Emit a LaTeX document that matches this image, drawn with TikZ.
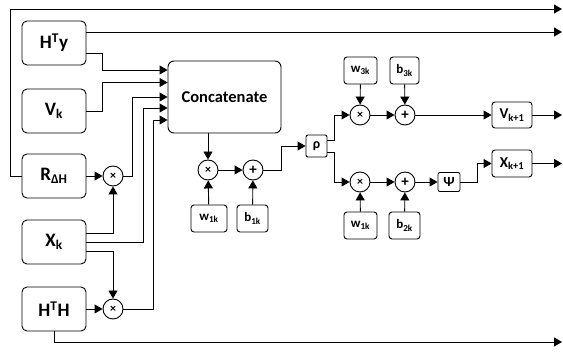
\documentclass[tikz,border=0pt]{standalone}
\usepackage{fontspec}
\setmainfont{Carlito}
\usetikzlibrary{arrows.meta}

\tikzset{
  blk/.style={draw, rounded corners=5pt, minimum width=64pt, minimum height=44pt, inner sep=1pt, font=\fontsize{19}{19}\selectfont\bfseries},
  sblk/.style={draw, rounded corners=3pt, minimum width=33pt, minimum height=27pt, inner sep=1pt, font=\fontsize{13}{13}\selectfont\bfseries},
  opmul/.style={draw, circle, minimum size=20pt, inner sep=0pt, font=\fontsize{12}{12}\selectfont\bfseries},
  opadd/.style={draw, circle, minimum size=20pt, inner sep=0pt, font=\fontsize{15}{15}\selectfont\bfseries},
  arr/.style={-{Triangle[length=8pt,width=9pt]}},
}

\begin{document}
\begin{tikzpicture}[x=1pt,y=1pt,yscale=-1,line width=0.9pt]
  \useasboundingbox (0,0) rectangle (563,352);

  % input blocks
  \node[blk] (hty) at (54,43) {H\textsuperscript{T}y};
  \node[blk] (vk) at (54,111) {V\textsubscript{k}};
  \node[blk] (rdh) at (54,176) {R\textsubscript{ΔH}};
  \node[blk] (xk) at (54,242) {X\textsubscript{k}};
  \node[blk] (hth) at (54,309) {H\textsuperscript{T}H};
  \node[draw, rounded corners=6pt, minimum width=113pt, minimum height=72pt, font=\fontsize{16.5}{16.5}\selectfont\bfseries] (concat) at (224.5,97) {Concatenate};

  % operators
  \node[opmul] (m1) at (113,176) {×};
  \node[opmul] (m2) at (113,309) {×};
  \node[opmul] (mc) at (208,170) {×};
  \node[opadd] (pc) at (253,170) {+};
  \node[sblk, minimum width=36pt] (w1) at (209,218.5) {w\textsubscript{1k}};
  \node[sblk, minimum width=31pt] (b1) at (252.5,218.5) {b\textsubscript{1k}};
  \node[draw, rounded corners=2pt, minimum width=21pt, minimum height=22pt, inner sep=0pt, font=\fontsize{14}{14}\selectfont\bfseries] (rho) at (316.5,146) {ρ};

  % upper branch
  \node[opmul] (mu) at (360,115) {×};
  \node[opadd] (pu) at (405,115) {+};
  \node[sblk] (w3) at (360.5,70.5) {w\textsubscript{3k}};
  \node[sblk, minimum width=29pt] (b3) at (404.5,70.5) {b\textsubscript{3k}};
  \node[sblk, minimum width=40pt, minimum height=26pt, font=\fontsize{15}{15}\selectfont\bfseries] (vout) at (512,115) {V\textsubscript{k+1}};

  % lower branch
  \node[opmul] (ml) at (360,182) {×};
  \node[opadd] (pl) at (405,182) {+};
  \node[draw, rounded corners=2pt, minimum width=22pt, minimum height=19pt, inner sep=0pt, font=\fontsize{14}{14}\selectfont\bfseries] (psi) at (449,182) {Ψ};
  \node[sblk] (w1b) at (360.5,225.5) {w\textsubscript{1k}};
  \node[sblk, minimum width=31pt] (b2) at (404.5,225.5) {b\textsubscript{2k}};
  \node[sblk, minimum width=40pt, minimum height=27pt, font=\fontsize{15}{15}\selectfont\bfseries] (xout) at (512,163.5) {X\textsubscript{k+1}};

  % bypass lines
  \draw[arr] (rdh.west) -- ++(-11,0) |- (562,9);
  \draw[arr] (hty.east |- 0,32) -- (562,32);
  \draw[arr] (hth.south) |- (562,342);

  % into concatenate
  \draw[arr] (hty.east |- 0,53) -| (102,70) -- (concat.west |- 0,70);
  \draw[arr] (vk.east) -| (102,82.5) -- (concat.west |- 0,82.5);
  \draw[arr] (m1.east) -| (132,97) -- (concat.west);
  \draw[arr] (xk.east) -| (143,108) -- (concat.west |- 0,108);
  \draw[arr] (m2.east) -| (153,120) -- (concat.west |- 0,120);

  % products on the left
  \draw[arr] (rdh) -- (m1);
  \draw[arr] (hth) -- (m2);
  \draw[arr] (xk.east |- 0,233) -| (m1.south);
  \draw[arr] (xk.east |- 0,251) -| (m2.north);

  % after concatenate
  \draw[arr] (concat.south -| mc) -- (mc);
  \draw[arr] (mc) -- (pc);
  \draw[arr] (w1) -- (mc);
  \draw[arr] (b1) -- (pc);
  \draw[arr] (pc.east) -| (281,146) -- (rho.west);

  % upper branch
  \draw[arr] (rho.east |- 0,140) -| (334,115) -- (mu.west);
  \draw[arr] (w3) -- (mu);
  \draw[arr] (b3) -- (pu);
  \draw[arr] (mu) -- (pu);
  \draw[arr] (pu) -- (vout);
  \draw[arr] (vout.east) -- (562,115);

  % lower branch
  \draw[arr] (rho.east |- 0,152) -| (334,182) -- (ml.west);
  \draw[arr] (w1b) -- (ml);
  \draw[arr] (b2) -- (pl);
  \draw[arr] (ml) -- (pl);
  \draw[arr] (pl) -- (psi);
  \draw[arr] (psi.east) -| (477,163.5) -- (xout.west);
  \draw[arr] (xout.east) -- (562,163.5);
\end{tikzpicture}
\end{document}
